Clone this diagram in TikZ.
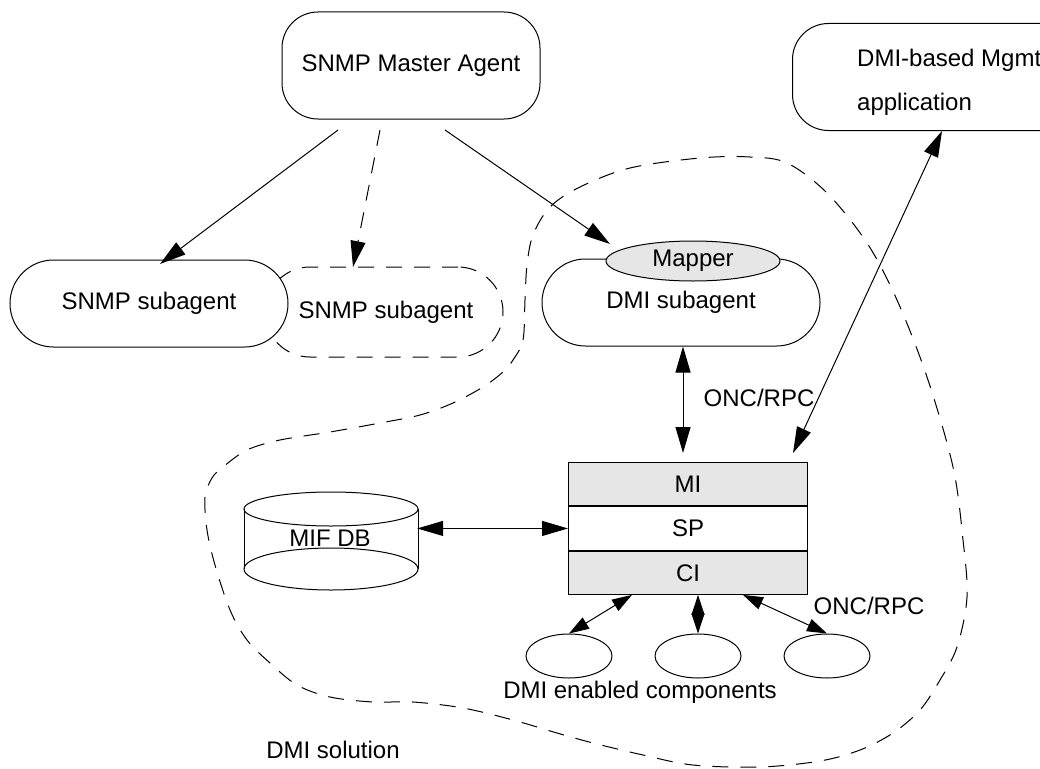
\documentclass[tikz,border=0pt]{standalone}
\usepackage{fontspec}
\setmainfont{Liberation Sans}
\usetikzlibrary{arrows.meta,calc,shapes.geometric}
\definecolor{boxgray}{HTML}{E6E6E6}
\begin{document}
\begin{tikzpicture}[x=1pt,y=-1pt,
  every node/.style={font=\fontsize{24}{29}\selectfont},
  ln/.style={line width=1pt},
  box/.style={draw, line width=1pt, fill=white},
  dsh/.style={dash pattern=on 16pt off 12pt},
  tip/.style={-{Triangle[length=26pt,width=15pt]}},
  dtip/.style={{Triangle[length=26pt,width=15pt]}-{Triangle[length=26pt,width=15pt]}},
  stip/.style={{Triangle[length=20pt,width=13pt]}-{Triangle[length=20pt,width=13pt]}},
]
\useasboundingbox (0,0) rectangle (1040,768);
\clip (0,0) rectangle (1040,768);

% DMI solution boundary
\draw[ln,dsh] plot[smooth cycle, tension=0.55] coordinates {
 (513,360) (523,340) (525,300) (527,265) (533,235) (550,207) (580,187)
 (630,168) (700,158) (750,157) (787,163) (827,193) (867,243) (897,300)
 (927,377) (953,467) (963,540) (967,597) (957,647) (940,680) (920,710)
 (893,733) (860,750) (820,761) (760,767) (693,765) (643,755) (593,743)
 (557,733) (513,720) (463,708) (413,702) (373,702) (330,697) (297,685)
 (270,663) (247,640) (230,610) (215,565) (207,530) (205,497) (212,478)
 (223,467) (247,450) (280,440) (330,432) (380,423) (420,415) (453,403)
 (483,387) (503,372)};

% top boxes
\node[box, rounded corners=36pt, minimum width=258, minimum height=107] (master) at (411,65.5) {SNMP Master Agent};
\node[box, rounded corners=36pt, minimum width=300, minimum height=107, anchor=north west] (mgmt) at (792,23) {};
\node[anchor=base west, inner sep=0pt] (mgmtl1) at (857,66.5) {DMI-based Mgmt};
\node[anchor=base west, inner sep=0pt] (mgmtl2) at (857,110.5) {application};

% subagents
\node[box, dsh, rounded corners=45pt, minimum width=238, minimum height=90] (snmp2) at (384,312) {\hspace*{4pt}SNMP subagent};
\node[box, rounded corners=43.5pt, minimum width=278, minimum height=87] (snmp1) at (149,303.5) {SNMP subagent};
\node[box, rounded corners=43.5pt, minimum width=278, minimum height=87] (dmisub) at (681,302.5) {DMI subagent};
\node[draw, ellipse, ln, fill=boxgray, minimum width=174, minimum height=40, inner sep=0pt] (mapper) at (693,261) {Mapper};

% service layer stack
\node[box, fill=boxgray, minimum width=239, minimum height=43.3, anchor=north west] (mi) at (568,462) {MI};
\node[box, minimum width=239, minimum height=43.3, anchor=north] (sp) at (mi.south) {SP};
\node[box, fill=boxgray, minimum width=239, minimum height=43.3, anchor=north] (ci) at (sp.south) {CI};

% MIF DB cylinder
\draw[ln] (331,569) ellipse [x radius=87pt, y radius=21pt];
\draw[ln] (244,509) -- (244,569) (418,509) -- (418,569);
\draw[ln] (331,509) ellipse [x radius=87pt, y radius=17pt];
\node[inner sep=0pt, minimum width=174, minimum height=100] (mifdb) at (330,538) {MIF DB};

% components
\node[draw, ellipse, ln, minimum width=86, minimum height=44] (c1) at (569,656) {};
\node[draw, ellipse, ln, minimum width=86, minimum height=44] (c2) at (698,656) {};
\node[draw, ellipse, ln, minimum width=86, minimum height=44] (c3) at (827,656) {};

% labels
\node (onc1) at (759,398) {ONC/RPC};
\node (onc2) at (869,606) {ONC/RPC};
\node (comps) at (640,692) {DMI enabled components};
\node (sol) at (333,750) {DMI solution};

% connector end points
\coordinate (m1) at (338,130);
\coordinate (m2) at (380,130);
\coordinate (m3) at (445,130);
\coordinate (t1) at (160,264);
\coordinate (t2) at (353,267);
\coordinate (t3) at (610,244);
\coordinate (g1) at (793,453);
\coordinate (g2) at (942,131);

% connectors
\draw[ln,tip] (m1) -- (t1);
\draw[ln,dsh,tip] (m2) -- (t2);
\draw[ln,tip] (m3) -- (t3);
\draw[ln,dtip] (dmisub.south -| 683,0) -- ($(mi.north -| 683,0)+(0,-9)$);
\draw[ln,dtip] (g1) -- (g2);
\draw[ln,dtip] (mifdb.east |- sp.west) -- (sp.west);
\draw[ln,stip] (c1.north) -- ($(ci.south west)+(64,0)$);
\draw[ln,stip] (c2.north) -- (c2.north |- ci.south);
\draw[ln,stip] (c3.north) -- ($(ci.south west)+(175,0)$);
\end{tikzpicture}
\end{document}
